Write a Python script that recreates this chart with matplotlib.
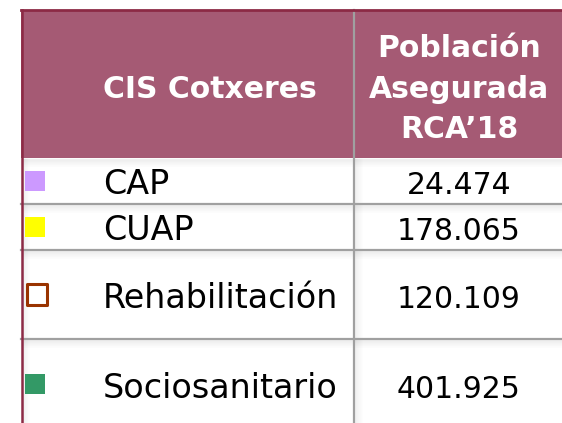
import matplotlib.pyplot as plt
from matplotlib.patches import Rectangle

# table contents
header_left = 'CIS Cotxeres'
header_right = ['Población', 'Asegurada', 'RCA’18']
centros = ['CAP', 'CUAP', 'Rehabilitación', 'Sociosanitario']
poblacion = [24474, 178065, 120109, 401925]
marker_face = ['#CC99FF', '#FFFF00', 'none', '#339966']
marker_edge = ['#CC99FF', '#FFFF00', '#993300', '#339966']

# layout (pixels, y down)
W, H = 562, 423
left, top, col_x = 21, 10, 354
row_edges = [158, 204, 250, 339, 430]
head_color = '#A55A74'
border_color = '#8C2A45'
grid_color = '#A0A0A0'

fig = plt.figure(figsize=(W / 100, H / 100), dpi=100)
ax = fig.add_axes([0, 0, 1, 1])
ax.set_xlim(0, W)
ax.set_ylim(H, 0)
ax.axis('off')

# header block
ax.add_patch(Rectangle((left, top), W - left, row_edges[0] - top,
                       facecolor=head_color, edgecolor='none', zorder=1))

# soft shadows under header and row lines, and along the left border
for y in row_edges[:-1]:
    for k in range(1, 9):
        ax.plot([left, W], [y + k, y + k], color='#000000',
                alpha=0.05 * (9 - k) / 8, lw=1, solid_capstyle='butt', zorder=2)
for k in range(1, 9):
    ax.plot([left + k, left + k], [row_edges[0], H], color='#000000',
            alpha=0.05 * (9 - k) / 8, lw=1, solid_capstyle='butt', zorder=2)
    ax.plot([col_x + k, col_x + k], [row_edges[0], H], color='#000000',
            alpha=0.04 * (9 - k) / 8, lw=1, solid_capstyle='butt', zorder=2)

# grid lines
for y in row_edges[1:-1]:
    ax.plot([left, W], [y, y], color=grid_color, lw=1.6, zorder=3)
ax.plot([col_x, col_x], [top, H], color=grid_color, lw=1.6, zorder=3)
ax.plot([left, W], [top + 0.5, top + 0.5], color=border_color, lw=2, zorder=4)
ax.plot([left + 1, left + 1], [top, H], color=border_color, lw=1.8, zorder=4)

# header text
ax.text(103, 98, header_left, ha='left', va='baseline', color='white',
        fontsize=21.5, fontweight='bold', family='DejaVu Sans', zorder=5)
for i, line in enumerate(header_right):
    ax.text(459, 57 + i * 40.5, line, ha='center', va='baseline', color='white',
            fontsize=21.5, fontweight='bold', family='DejaVu Sans', zorder=5)

# rows
for i, (name, val) in enumerate(zip(centros, poblacion)):
    yc = (row_edges[i] + row_edges[i + 1]) / 2
    hollow = marker_face[i] == 'none'
    ax.scatter([37 if hollow else 35], [yc], marker='s',
               s=225 if hollow else 210, facecolor=marker_face[i],
               edgecolor=marker_edge[i], linewidths=2.2 if hollow else 0, zorder=5)
    ax.text(103, yc + 13, name, ha='left', va='baseline', color='black',
            fontsize=24, family='DejaVu Sans', zorder=5)
    ax.text(459, yc + 13, f'{val:,}'.replace(',', '.'), ha='center', va='baseline',
            color='black', fontsize=21.5, family='DejaVu Sans', zorder=5)

fig.savefig('out.png', dpi=100)
